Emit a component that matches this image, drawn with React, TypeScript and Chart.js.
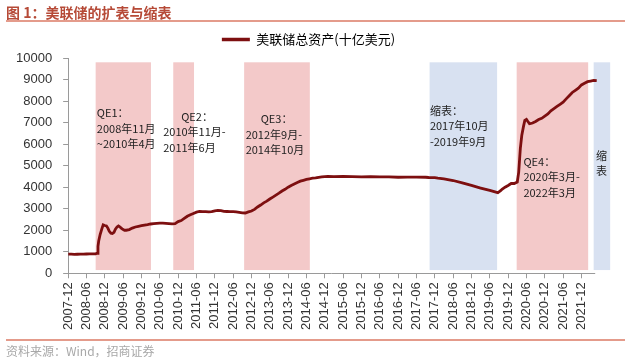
import React, { useEffect, useRef } from "react";
import { Chart, registerables } from "chart.js";

Chart.register(...registerables);

// ---- data ----
const dates: string[] = [
  "2007-12-01", "2008-01-01", "2008-02-01", "2008-03-01", "2008-04-01", "2008-05-01", "2008-06-01",
  "2008-07-01", "2008-08-01", "2008-09-01", "2008-09-15", "2008-09-24", "2008-10-01", "2008-10-15",
  "2008-11-01", "2008-11-15", "2008-12-01", "2008-12-17", "2009-01-01", "2009-01-15", "2009-02-01",
  "2009-02-15", "2009-03-01", "2009-03-15", "2009-04-01", "2009-04-15", "2009-05-01", "2009-05-15",
  "2009-06-01", "2009-06-15", "2009-07-01", "2009-08-01", "2009-09-01", "2009-10-01", "2009-11-01",
  "2009-12-01", "2010-01-01", "2010-02-01", "2010-03-01", "2010-04-01", "2010-05-01", "2010-06-01",
  "2010-07-01", "2010-08-01", "2010-09-01", "2010-10-01", "2010-11-01", "2010-12-01", "2011-01-01",
  "2011-02-01", "2011-03-01", "2011-04-01", "2011-05-01", "2011-06-01", "2011-07-01", "2011-08-01",
  "2011-09-01", "2011-10-01", "2011-11-01", "2011-12-01", "2012-01-01", "2012-02-01", "2012-03-01",
  "2012-04-01", "2012-05-01", "2012-06-01", "2012-07-01", "2012-08-01", "2012-09-01", "2012-10-01",
  "2012-11-01", "2012-12-01", "2013-01-01", "2013-02-01", "2013-03-01", "2013-04-01", "2013-05-01",
  "2013-06-01", "2013-07-01", "2013-08-01", "2013-09-01", "2013-10-01", "2013-11-01", "2013-12-01",
  "2014-01-01", "2014-02-01", "2014-03-01", "2014-04-01", "2014-05-01", "2014-06-01", "2014-07-01",
  "2014-08-01", "2014-09-01", "2014-10-01", "2014-11-01", "2014-12-01", "2015-01-01", "2015-03-01",
  "2015-06-01", "2015-09-01", "2015-12-01", "2016-03-01", "2016-06-01", "2016-09-01", "2016-12-01",
  "2017-03-01", "2017-06-01", "2017-09-01", "2017-10-01", "2017-12-01", "2018-01-01", "2018-03-01",
  "2018-06-01", "2018-09-01", "2018-12-01", "2019-03-01", "2019-06-01", "2019-08-01", "2019-08-20",
  "2019-09-20", "2019-10-01", "2019-11-01", "2019-12-01", "2020-01-01", "2020-02-01", "2020-03-01",
  "2020-03-15", "2020-04-01", "2020-04-15", "2020-05-01", "2020-05-15", "2020-06-01", "2020-06-15",
  "2020-07-01", "2020-07-15", "2020-08-01", "2020-09-01", "2020-10-01", "2020-11-01", "2020-12-01",
  "2021-01-01", "2021-02-01", "2021-03-01", "2021-04-01", "2021-05-01", "2021-06-01", "2021-07-01",
  "2021-08-01", "2021-09-01", "2021-10-01", "2021-11-01", "2021-12-01", "2022-01-01", "2022-02-01",
  "2022-03-01", "2022-04-01", "2022-05-01",
];

const assets: number[] = [
  890, 888, 882, 885, 890, 893, 896,
  900, 905, 906, 930, 1250, 1500, 1800,
  2050, 2250, 2220, 2200, 2100, 1950, 1860,
  1850, 1900, 2050, 2150, 2200, 2150, 2080,
  2030, 2000, 2000, 2030, 2100, 2150, 2180,
  2210, 2240, 2260, 2290, 2310, 2320, 2330,
  2330, 2320, 2310, 2300, 2310, 2400, 2450,
  2550, 2650, 2720, 2780, 2840, 2870, 2860,
  2860, 2850, 2860, 2900, 2920, 2910, 2880,
  2870, 2860, 2860, 2850, 2830, 2810, 2800,
  2850, 2890, 2970, 3080, 3170, 3270, 3350,
  3450, 3540, 3630, 3720, 3820, 3900, 4000,
  4080, 4150, 4220, 4280, 4320, 4360, 4390,
  4420, 4430, 4460, 4480, 4490, 4500, 4490,
  4500, 4490, 4480, 4490, 4480, 4480, 4460,
  4470, 4470, 4460, 4450, 4440, 4420, 4390,
  4310, 4200, 4080, 3960, 3850, 3770, 3740,
  3850, 3900, 4000, 4080, 4170, 4170, 4240,
  4700, 5800, 6400, 6800, 7100, 7150, 7050,
  6950, 6960, 6980, 7050, 7140, 7200, 7300,
  7400, 7550, 7650, 7750, 7850, 7950, 8100,
  8250, 8400, 8500, 8600, 8750, 8830, 8900,
  8930, 8960, 8950,
];

const tickLabels: string[] = [
  "2007-12", "2008-06", "2008-12", "2009-06", "2009-12", "2010-06", "2010-12", "2011-06",
  "2011-12", "2012-06", "2012-12", "2013-06", "2013-12", "2014-06", "2014-12", "2015-06",
  "2015-12", "2016-06", "2016-12", "2017-06", "2017-12", "2018-06", "2018-12", "2019-06",
  "2019-12", "2020-06", "2020-12", "2021-06", "2021-12",
];

const yTicks: number[] = [0, 1000, 2000, 3000, 4000, 5000, 6000, 7000, 8000, 9000, 10000];

// shaded periods (QE = pink, 缩表 = blue)
const bandStarts: string[] = ["2008-09-01", "2010-10-13", "2012-09-19", "2017-10-10", "2020-02-25", "2022-04-01"];
const bandEnds: string[] = ["2010-03-04", "2011-05-07", "2014-07-04", "2019-08-13", "2022-02-07", "2022-09-13"];
const bandKinds: string[] = ["qe", "qe", "qe", "qt", "qe", "qt"];
const bandLow = 150;
const bandHigh = 9800;

const seriesName = "美联储总资产(十亿美元)";

// ---- styles / annotation layout ----
const LINE_COLOR = "#7d0f10";
const PINK = "#f3c9c9";
const BLUE = "#d8e1f1";
const AXIS_COLOR = "#9a9a9a";
const TICK_FONT = { family: "'Liberation Sans', Arial, sans-serif", size: 13 };
const CJK = "'Noto Sans CJK SC', 'Noto Sans', sans-serif";
const AXIS_END = "2022-04-16";

type Note = { lines: string[]; at: string; value: number; shift: number[]; align: "left" | "center" };
const notes: Note[] = [
  { lines: ["QE1：", "2008年11月", "~2010年4月"], at: "2008-09-13", value: 7440, shift: [0, 0, 0], align: "left" },
  { lines: ["QE2：", "2010年11月-", "2011年6月"], at: "2010-07-04", value: 7270, shift: [18, 0, 0], align: "left" },
  { lines: ["QE3：", "2012年9月-", "2014年10月"], at: "2012-10-04", value: 7160, shift: [15, 0, 0], align: "left" },
  { lines: ["缩表：", "2017年10月", "-2019年9月"], at: "2017-10-13", value: 7550, shift: [0, 0, 0], align: "left" },
  { lines: ["QE4：", "2020年3月-", "2022年3月"], at: "2020-05-01", value: 5180, shift: [0, 0, 0], align: "left" },
  { lines: ["缩", "表"], at: "2022-06-19", value: 5460, shift: [0, 0], align: "center" },
];
const NOTE_LINE_GAP = 15.5;

function monthIndex(s: string): number {
  const parts = s.split("-").map(Number);
  const y = parts[0];
  const m = parts[1];
  const d = parts[2] || 1;
  return (y - 2007) * 12 + (m - 12) + (d - 1) / 30;
}

const overlayPlugin = {
  id: "overlay",
  beforeDatasetsDraw(chart: any) {
    const { ctx, scales } = chart;
    const x = scales.x;
    const y = scales.y;
    ctx.save();
    bandStarts.forEach((s, i) => {
      const x0 = x.getPixelForValue(monthIndex(s));
      const x1 = x.getPixelForValue(monthIndex(bandEnds[i]));
      const y0 = y.getPixelForValue(bandHigh);
      const y1 = y.getPixelForValue(bandLow);
      ctx.fillStyle = bandKinds[i] === "qe" ? PINK : BLUE;
      ctx.fillRect(x0, y0, x1 - x0, y1 - y0);
    });
    // annotations
    ctx.fillStyle = "#222";
    ctx.font = `11px ${CJK}`;
    ctx.textBaseline = "middle";
    notes.forEach((n) => {
      const px = x.getPixelForValue(monthIndex(n.at));
      const py = y.getPixelForValue(n.value);
      ctx.textAlign = n.align;
      n.lines.forEach((t, k) => {
        ctx.fillText(t, px + n.shift[k], py + k * NOTE_LINE_GAP);
      });
    });
    ctx.restore();
  },
  afterDatasetsDraw(chart: any) {
    const { ctx, scales, chartArea } = chart;
    const x = scales.x;
    ctx.save();
    ctx.strokeStyle = AXIS_COLOR;
    ctx.lineWidth = 1;
    ctx.beginPath();
    const yy = Math.round(chartArea.bottom) + 0.5;
    ctx.moveTo(chartArea.left, yy);
    ctx.lineTo(x.getPixelForValue(monthIndex(AXIS_END)), yy);
    ctx.stroke();
    ctx.restore();
  },
};

export default function App() {
  const ref = useRef<HTMLCanvasElement | null>(null);

  useEffect(() => {
    if (!ref.current) return;
    const chart = new Chart(ref.current, {
      type: "line",
      data: {
        datasets: [
          {
            label: seriesName,
            data: dates.map((d, i) => ({ x: monthIndex(d), y: assets[i] })),
            borderColor: LINE_COLOR,
            backgroundColor: LINE_COLOR,
            borderWidth: 2.8,
            pointRadius: 0,
            tension: 0,
          },
        ],
      },
      options: {
        animation: false,
        responsive: false,
        devicePixelRatio: 1,
        layout: { padding: { left: 5, right: 28, top: 23, bottom: 27 } },
        plugins: {
          tooltip: { enabled: false },
          title: {
            display: true,
            text: "",
            weight: 500,
            padding: { top: 0, bottom: 0 },
            font: { size: 1, lineHeight: 2 },
          },
          legend: {
            display: true,
            position: "top",
            labels: {
              boxWidth: 28,
              boxHeight: 3.5,
              font: { family: CJK, size: 13 },
              color: "#333",
              generateLabels: () => [
                {
                  text: seriesName,
                  fillStyle: LINE_COLOR,
                  strokeStyle: LINE_COLOR,
                  lineWidth: 0,
                  hidden: false,
                  datasetIndex: 0,
                } as any,
              ],
            },
          },
        },
        scales: {
          x: {
            type: "linear",
            min: 0,
            max: 178,
            border: { display: false },
            grid: { drawOnChartArea: false, drawTicks: true, tickLength: 5, color: AXIS_COLOR },
            afterBuildTicks: (scale: any) => {
              scale.ticks = tickLabels.map((l) => ({ value: monthIndex(l + "-01") }));
            },
            ticks: {
              autoSkip: false,
              maxRotation: 90,
              minRotation: 90,
              padding: 4,
              font: TICK_FONT,
              color: "#333",
              callback: (_v: any, i: number) => tickLabels[i] ?? "",
            },
          },
          y: {
            min: 0,
            max: 10000,
            border: { display: true, color: AXIS_COLOR },
            grid: { drawOnChartArea: false, drawTicks: true, tickLength: 5, color: AXIS_COLOR },
            afterBuildTicks: (scale: any) => {
              scale.ticks = yTicks.map((v) => ({ value: v }));
            },
            ticks: {
              padding: 11,
              font: TICK_FONT,
              color: "#333",
              callback: (v: any) => String(v),
            },
          },
        },
      },
      plugins: [overlayPlugin],
    });
    return () => chart.destroy();
  }, []);

  return (
    <div style={{ position: "fixed", left: 0, top: 0, width: 640, height: 361, background: "#fff", overflow: "hidden" }}>
      <canvas ref={ref} width={640} height={361} style={{ position: "absolute", left: 0, top: 0, width: 640, height: 361 }} />
      <div
        style={{
          position: "absolute",
          left: 6,
          top: 4,
          fontFamily: CJK,
          fontSize: 14,
          fontWeight: 600,
          lineHeight: "16px",
          color: "#b64a37",
          whiteSpace: "nowrap",
        }}
      >
        图 1：美联储的扩表与缩表
      </div>
      <div style={{ position: "absolute", left: 6, top: 20, width: 619, height: 1.5, background: "#e49b8b" }} />
      <div style={{ position: "absolute", left: 6, top: 339, width: 619, height: 1.5, background: "#e49b8b" }} />
      <div
        style={{
          position: "absolute",
          left: 6,
          top: 343,
          fontFamily: CJK,
          fontSize: 12,
          lineHeight: "15px",
          color: "#a8a8a8",
          whiteSpace: "nowrap",
        }}
      >
        资料来源：Wind，招商证券
      </div>
    </div>
  );
}
